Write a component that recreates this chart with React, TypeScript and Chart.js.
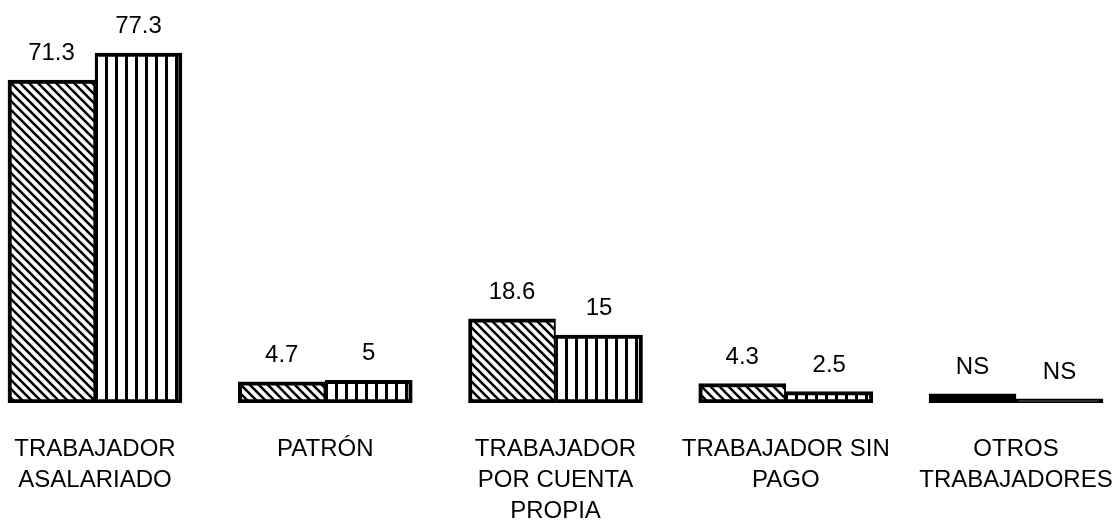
import React, { useEffect, useRef } from "react";
import { Chart, registerables } from "chart.js";

Chart.register(...registerables);

const CATEGORIES: string[][] = [
  ["TRABAJADOR", "ASALARIADO"],
  ["PATRÓN"],
  ["TRABAJADOR", "POR CUENTA", "PROPIA"],
  ["TRABAJADOR SIN", "PAGO"],
  ["OTROS", "TRABAJADORES"],
];
const CATEGORY_INDEX = [0, 1, 2, 3, 4];
const SERIES_A = [71.3, 4.7, 18.6, 4.3, 2.0];
const SERIES_B = [77.3, 5, 15, 2.5, 0.9];
const LABELS_A = ["71.3", "4.7", "18.6", "4.3", "NS"];
const LABELS_B = ["77.3", "5", "15", "2.5", "NS"];
const VALUE_LABELS = [LABELS_A, LABELS_B];

const FONT = "'Liberation Sans', Arial, Helvetica, sans-serif";

function diagonalPattern(): CanvasPattern | string {
  const s = 9;
  const c = document.createElement("canvas");
  c.width = s;
  c.height = s;
  const ctx = c.getContext("2d");
  if (!ctx) return "#fff";
  ctx.fillStyle = "#fff";
  ctx.fillRect(0, 0, s, s);
  ctx.strokeStyle = "#000";
  ctx.lineWidth = 2.6;
  ctx.beginPath();
  for (const k of [-1, 0, 1]) {
    ctx.moveTo(k * s - 1, -1);
    ctx.lineTo(k * s + s + 1, s + 1);
  }
  ctx.stroke();
  return ctx.createPattern(c, "repeat") || "#fff";
}

function verticalPattern(): CanvasPattern | string {
  const w = 10;
  const c = document.createElement("canvas");
  c.width = w;
  c.height = 10;
  const ctx = c.getContext("2d");
  if (!ctx) return "#fff";
  ctx.fillStyle = "#fff";
  ctx.fillRect(0, 0, w, 10);
  ctx.fillStyle = "#000";
  ctx.fillRect(5, 0, 3, 10);
  return ctx.createPattern(c, "repeat") || "#fff";
}

const valueLabelPlugin = {
  id: "valueLabels",
  afterDatasetsDraw(chart: any) {
    const ctx = chart.ctx;
    ctx.save();
    ctx.fillStyle = "#000";
    ctx.font = `24px ${FONT}`;
    ctx.textAlign = "center";
    ctx.textBaseline = "alphabetic";
    chart.data.datasets.forEach((_ds: any, di: number) => {
      const meta = chart.getDatasetMeta(di);
      meta.data.forEach((el: any, i: number) => {
        ctx.fillText(VALUE_LABELS[di][i], el.x, el.y - 20);
      });
    });
    ctx.restore();
  },
};

export default function App() {
  const ref = useRef<HTMLCanvasElement | null>(null);

  useEffect(() => {
    if (!ref.current) return;
    const diag = diagonalPattern();
    const vert = verticalPattern();
    // "NS" bars are drawn solid black in the original
    const fillA = LABELS_A.map((l) => (l === "NS" ? "#000" : diag));
    const fillB = LABELS_B.map((l) => (l === "NS" ? "#000" : vert));
    const chart = new Chart(ref.current, {
      type: "bar",
      data: {
        datasets: [
          {
            data: CATEGORY_INDEX.map((x, i) => ({ x, y: SERIES_A[i] })),
            backgroundColor: fillA as any,
            borderColor: "#000",
            borderWidth: { top: 4, left: 4, bottom: 4, right: 2 } as any,
            borderSkipped: false,
            barThickness: 87,
          },
          {
            data: CATEGORY_INDEX.map((x, i) => ({ x, y: SERIES_B[i] })),
            backgroundColor: fillB as any,
            borderColor: "#000",
            borderWidth: { top: 4, left: 2, bottom: 4, right: 4 } as any,
            borderSkipped: false,
            barThickness: 87,
          },
        ],
      },
      options: {
        animation: false,
        responsive: true,
        maintainAspectRatio: false,
        layout: { padding: 0 },
        plugins: {
          legend: { display: false },
          tooltip: { enabled: false },
        },
        scales: {
          x: {
            type: "linear",
            offset: false,
            min: -0.4126,
            max: 4.4386,
            grid: { display: false, offset: false },
            border: { display: false },
            afterBuildTicks: (scale: any) => {
              scale.ticks = CATEGORY_INDEX.map((v) => ({ value: v }));
            },
            afterFit: (scale: any) => {
              scale.height = 118;
              scale.paddingLeft = 0;
              scale.paddingRight = 0;
            },
            ticks: {
              autoSkip: false,
              maxRotation: 0,
              minRotation: 0,
              padding: 22.5,
              color: "#000",
              font: { family: FONT, size: 24, lineHeight: 1.29 },
              callback: (value: any) => CATEGORIES[Math.round(Number(value))] as any,
            },
          },
          y: {
            display: false,
            min: 0,
            max: 89,
          },
        },
      },
      plugins: [valueLabelPlugin],
    });
    return () => chart.destroy();
  }, []);

  return (
    <div
      style={{
        position: "fixed",
        left: 0,
        top: 0,
        width: 1117,
        height: 521,
        background: "#fff",
      }}
    >
      <canvas ref={ref} />
    </div>
  );
}
